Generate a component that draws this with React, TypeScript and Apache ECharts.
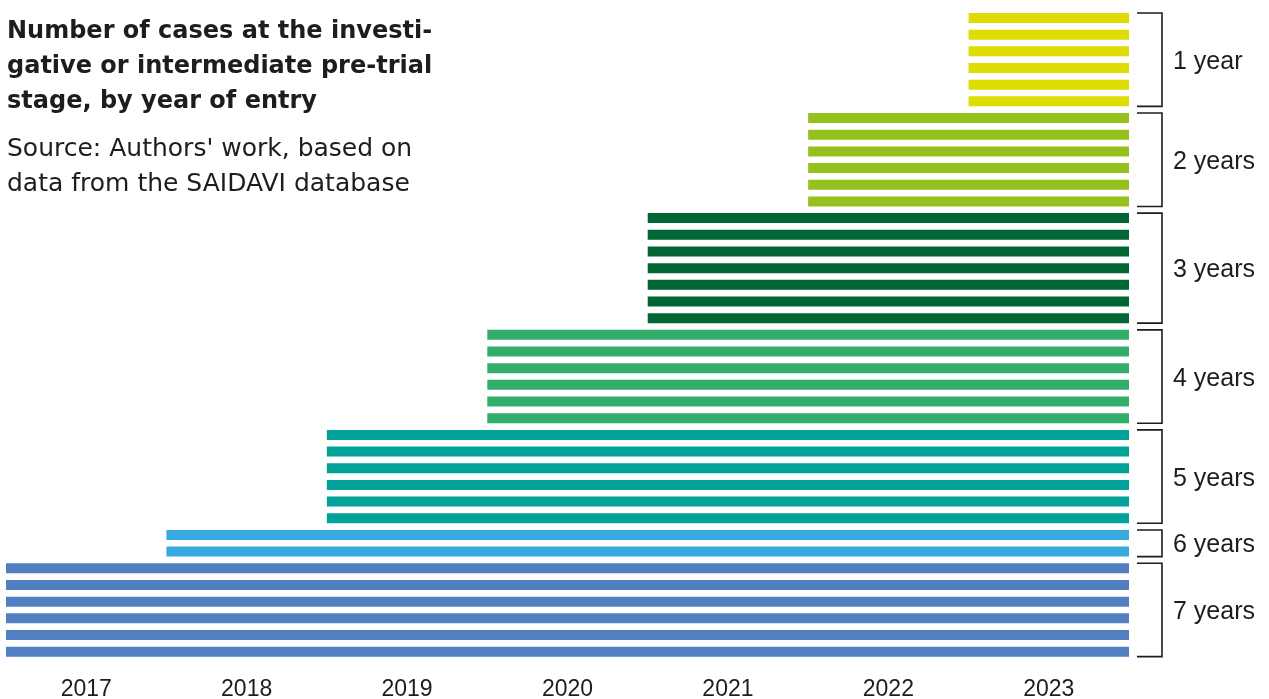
import React, { useEffect, useRef } from 'react';
import * as echarts from 'echarts';

const years = ['2017', '2018', '2019', '2020', '2021', '2022', '2023'];
const groupLabels = ['1 year', '2 years', '3 years', '4 years', '5 years', '6 years', '7 years'];
const groupDurations = [1, 2, 3, 4, 5, 6, 7];
const groupCaseCounts = [6, 6, 7, 6, 6, 2, 6];
const groupColors = ['#DEDC00', '#95C11F', '#006633', '#33AE6A', '#00A29A', '#36A9E1', '#527FC1'];
const titleLines = ['Number of cases at the investi-', 'gative or intermediate pre-trial', 'stage, by year of entry'];
const sourceLines = ["Source: Authors' work, based on", 'data from the SAIDAVI database'];

const TEXT = '#1d1d1b';
const BAR_W = 10;

export default function App() {
  const ref = useRef<HTMLDivElement>(null);
  useEffect(() => {
    document.body.style.margin = '0';
    const chart = echarts.init(ref.current!, null, { renderer: 'svg' });

    const rows: { id: string; duration: number; color: string }[] = [];
    const groupRanges: number[][] = [];
    groupDurations.forEach((d, g) => {
      const start = rows.length;
      for (let k = 0; k < groupCaseCounts[g]; k++) {
        rows.push({ id: 'g' + g + 'c' + k, duration: d, color: groupColors[g] });
      }
      groupRanges.push([0, start, rows.length - 1, g]);
    });

    chart.setOption({
      animation: false,
      title: {
        left: 7,
        top: 12,
        padding: 0,
        itemGap: 13,
        text: titleLines.join('\n'),
        subtext: sourceLines.join('\n'),
        textStyle: { fontFamily: 'DejaVu Sans', fontWeight: 'bold', fontSize: 24, lineHeight: 35, color: TEXT },
        subtextStyle: { fontFamily: 'DejaVu Sans', fontSize: 25, lineHeight: 35, color: TEXT },
      },
      grid: { left: 6, right: 140, top: 9.66, bottom: 38.66, containLabel: false },
      xAxis: [
        { type: 'value', min: 0, max: 7, inverse: true, show: false },
        {
          type: 'category',
          data: years,
          position: 'bottom',
          boundaryGap: true,
          axisLine: { show: false },
          axisTick: { show: false },
          splitLine: { show: false },
          axisLabel: { fontFamily: 'Liberation Sans', fontSize: 23, color: TEXT, margin: 16 },
        },
      ],
      yAxis: {
        type: 'category',
        data: rows.map((r) => r.id),
        inverse: true,
        show: false,
      },
      series: [
        {
          type: 'bar',
          xAxisIndex: 0,
          yAxisIndex: 0,
          barWidth: BAR_W,
          data: rows.map((r) => ({ value: r.duration, itemStyle: { color: r.color } })),
        },
        {
          type: 'custom',
          xAxisIndex: 0,
          yAxisIndex: 0,
          clip: false,
          encode: { x: 0, y: 1 },
          data: groupRanges,
          renderItem: (params: any, api: any) => {
            const s = api.value(1);
            const e = api.value(2);
            const g = api.value(3);
            const p0 = api.coord([0, s]);
            const p1 = api.coord([0, e]);
            const top = p0[1] - BAR_W / 2;
            const bottom = p1[1] + BAR_W / 2;
            const xa = p0[0] + 8;
            const xb = p0[0] + 33;
            return {
              type: 'group',
              children: [
                {
                  type: 'polyline',
                  shape: { points: [[xa, top], [xb, top], [xb, bottom], [xa, bottom]] },
                  style: { stroke: TEXT, lineWidth: 1.6, fill: 'none' },
                },
                {
                  type: 'text',
                  x: xb + 11,
                  y: (top + bottom) / 2,
                  style: {
                    text: groupLabels[g],
                    fontFamily: 'Liberation Sans',
                    fontSize: 25,
                    fill: TEXT,
                    verticalAlign: 'middle',
                    align: 'left',
                  },
                },
              ],
            };
          },
        },
      ],
    });
    return () => chart.dispose();
  }, []);
  return <div ref={ref} style={{ position: 'fixed', left: 0, top: 0, width: 1269, height: 699 }} />;
}
